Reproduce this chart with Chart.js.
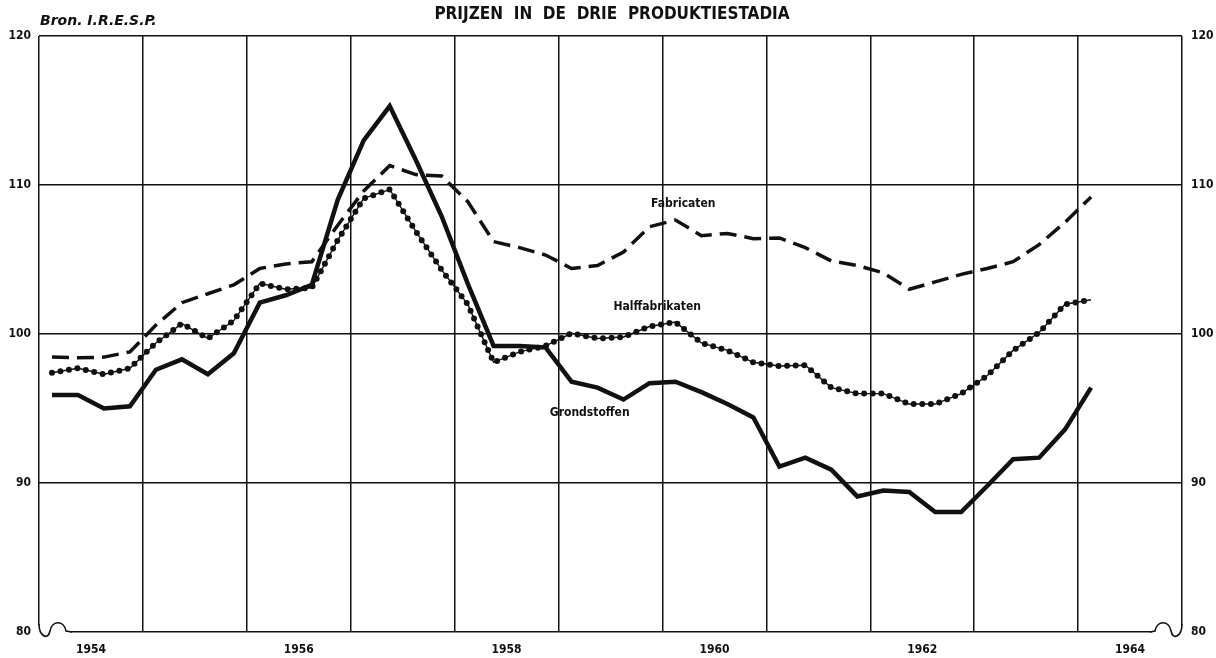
<!DOCTYPE html>
<html>
<head>
<meta charset="utf-8">
<script src="https://cdn.jsdelivr.net/npm/chart.js@4/dist/chart.umd.min.js"></script>
<style>
  body { margin: 0; background: #fff; }
  #wrap { width: 1216px; height: 658px; position: relative; }
</style>
</head>
<body>
<div id="wrap"><canvas id="myChart"></canvas></div>
<script>
// quarterly observations, 1954 I .. 1964 I
const quarters = [
  '1954 I', '1954 II', '1954 III', '1954 IV',
  '1955 I', '1955 II', '1955 III', '1955 IV',
  '1956 I', '1956 II', '1956 III', '1956 IV',
  '1957 I', '1957 II', '1957 III', '1957 IV',
  '1958 I', '1958 II', '1958 III', '1958 IV',
  '1959 I', '1959 II', '1959 III', '1959 IV',
  '1960 I', '1960 II', '1960 III', '1960 IV',
  '1961 I', '1961 II', '1961 III', '1961 IV',
  '1962 I', '1962 II', '1962 III', '1962 IV',
  '1963 I', '1963 II', '1963 III', '1963 IV',
  '1964 I'
];

const grondstoffen = [
  95.9, 95.9, 95.0, 95.15, 97.6, 98.3, 97.3, 98.7, 102.1, 102.6, 103.3,
  109.0, 113.0, 115.3, 111.7, 107.9, 103.4, 99.2, 99.2, 99.1, 96.8,
  96.4, 95.6, 96.7, 96.8, 96.1, 95.3, 94.4, 91.1, 91.7, 90.9,
  89.1, 89.5, 89.4, 88.05, 88.05, 89.8, 91.6, 91.7, 93.6, 96.4
];

const halffabrikaten = [
  97.4, 97.7, 97.3, 97.7, 99.4, 100.7, 99.7, 100.9, 103.4, 103.0, 103.1,
  106.3, 109.1, 109.7, 106.9, 104.3, 102.0, 98.1, 98.8, 99.2, 100.05,
  99.7, 99.8, 100.5, 100.8, 99.4, 98.9, 98.1, 97.85, 97.9, 96.4,
  96.0, 96.0, 95.3, 95.3, 96.0, 97.2, 98.9, 100.1, 102.0, 102.3
];

const fabricaten = [
  98.45, 98.4, 98.45, 98.8, 100.6, 102.1, 102.7, 103.3, 104.4, 104.7, 104.85,
  107.3, 109.6, 111.3, 110.7, 110.6, 108.9, 106.2, 105.8, 105.3, 104.4,
  104.6, 105.5, 107.2, 107.65, 106.6, 106.75, 106.4, 106.45, 105.8, 104.9,
  104.6, 104.1, 103.0, 103.5, 104.0, 104.4, 104.85, 106.0, 107.5, 109.2
];

const yearTicks = [1954, 1955, 1956, 1957, 1958, 1959, 1960, 1961, 1962, 1963, 1964, 1965];
const yearLabels = [1954, 1956, 1958, 1960, 1962, 1964];
const valueTicks = [80, 90, 100, 110, 120];

const FONT = "'DejaVu Sans Condensed', 'DejaVu Sans', sans-serif";

// '1957 III' -> 1957.625 (middle of the quarter)
const quarterToX = (q) => {
  const [y, r] = q.split(' ');
  const n = { I: 1, II: 2, III: 3, IV: 4 }[r];
  return Number(y) + (n - 0.5) / 4;
};

const toPoints = (values) => values.map((v, i) => ({ x: quarterToX(quarters[i]), y: v }));

const textPlugin = {
  id: 'texts',
  afterDraw(chart) {
    const { ctx, scales: { x, y }, chartArea: a } = chart;
    ctx.save();
    ctx.fillStyle = '#111';
    ctx.textBaseline = 'middle';
    ctx.textAlign = 'center';
    ctx.font = `bold 17px ${FONT}`;
    ctx.fillText('PRIJZEN  IN  DE  DRIE  PRODUKTIESTADIA', 612, 15);
    ctx.textAlign = 'left';
    ctx.font = "italic bold 14px 'DejaVu Sans', sans-serif";
    ctx.fillText('Bron. I.R.E.S.P.', 40, 21);

    ctx.textAlign = 'center';
    ctx.font = `bold 12px ${FONT}`;
    const notes = [
      ['Fabricaten', 1960.2, 108.7],
      ['Halffabrikaten', 1959.95, 101.8],
      ['Grondstoffen', 1959.3, 94.7]
    ];
    notes.forEach(([t, xv, yv]) => ctx.fillText(t, x.getPixelForValue(xv), y.getPixelForValue(yv)));

    // little hooks at the bottom corners of the frame
    const b = a.bottom, l = a.left, r = a.right;
    ctx.fillStyle = '#fff';
    ctx.fillRect(l - 2, b - 7, 33, 10);
    ctx.fillRect(r - 30, b - 7, 32, 10);
    ctx.strokeStyle = '#111';
    ctx.lineWidth = 1.6;
    ctx.beginPath();
    ctx.moveTo(l, b - 8);
    ctx.bezierCurveTo(l, b + 4, l + 9, b + 9, l + 11, b - 1);
    ctx.bezierCurveTo(l + 13, b - 12, l + 25, b - 12, l + 27, b - 1);
    ctx.lineTo(l + 33, b);
    ctx.stroke();
    ctx.beginPath();
    ctx.moveTo(r, b - 8);
    ctx.bezierCurveTo(r, b + 4, r - 9, b + 9, r - 11, b - 1);
    ctx.bezierCurveTo(r - 13, b - 12, r - 25, b - 12, r - 27, b - 1);
    ctx.lineTo(r - 32, b);
    ctx.stroke();
    ctx.restore();
  }
};

const configureData = () => {
  return {
    datasets: [{
      label: 'Fabricaten',
      data: toPoints(fabricaten),
      borderColor: '#111',
      borderWidth: 3.5,
      borderDash: [17, 8]
    }, {
      label: 'Halffabrikaten',
      data: toPoints(halffabrikaten),
      borderColor: '#111',
      borderWidth: 1.4
    }, {
      label: 'Halffabrikaten dots',
      data: toPoints(halffabrikaten),
      borderColor: '#111',
      borderWidth: 6,
      borderDash: [0, 8.6],
      borderCapStyle: 'round'
    }, {
      label: 'Grondstoffen',
      data: toPoints(grondstoffen),
      borderColor: '#111',
      borderWidth: 4.5,
      borderJoinStyle: 'miter'
    }]
  }
};

const tickFont = { family: FONT, size: 12, weight: 'bold' };

const configureChart = (data) => {
  return {
    type: 'line',
    data: data,
    plugins: [textPlugin],
    options: {
      responsive: true,
      maintainAspectRatio: false,
      animation: false,
      layout: { padding: { top: 36, left: 0, right: 0, bottom: 0 } },
      elements: {
        point: { radius: 0 },
        line: { tension: 0, fill: false }
      },
      plugins: {
        legend: { display: false },
        title: { display: false },
        tooltip: { enabled: false }
      },
      scales: {
        x: {
          type: 'linear',
          min: 1954,
          max: 1965,
          afterBuildTicks: (scale) => {
            const t = [];
            yearTicks.forEach((v) => { t.push({ value: v }); if (v < 1965) t.push({ value: v + 0.5 }); });
            scale.ticks = t;
          },
          afterFit: (scale) => { scale.height = 26; },
          border: { display: false },
          grid: {
            drawTicks: false,
            lineWidth: 1.5,
            color: (c) => (c.tick && Number.isInteger(c.tick.value)) ? '#111' : 'rgba(0,0,0,0)'
          },
          ticks: {
            autoSkip: false,
            maxRotation: 0,
            padding: 11,
            color: '#111',
            font: tickFont,
            callback: (v) => {
              const yr = Math.floor(v);
              return (v - yr === 0.5 && yearLabels.includes(yr)) ? String(yr) : '';
            }
          }
        },
        y: {
          min: 80,
          max: 120,
          position: 'left',
          afterBuildTicks: (scale) => { scale.ticks = valueTicks.map((v) => ({ value: v })); },
          afterFit: (scale) => { scale.width = 39; },
          border: { display: false },
          grid: { drawTicks: false, lineWidth: 1.5, color: '#111' },
          ticks: { padding: 8, color: '#111', font: tickFont }
        },
        y2: {
          min: 80,
          max: 120,
          position: 'right',
          afterBuildTicks: (scale) => { scale.ticks = valueTicks.map((v) => ({ value: v })); },
          afterFit: (scale) => { scale.width = 34; },
          border: { display: false },
          grid: { display: false, drawTicks: false },
          ticks: { padding: 9, color: '#111', font: tickFont }
        }
      }
    }
  }
};

const renderChart = () => {
  const ctx = document.getElementById('myChart');
  const data = configureData();
  const chartConfigurations = configureChart(data);
  const myChart = new Chart(ctx, chartConfigurations);
};

window.onload = () => {
  renderChart();
};
</script>
</body>
</html>
